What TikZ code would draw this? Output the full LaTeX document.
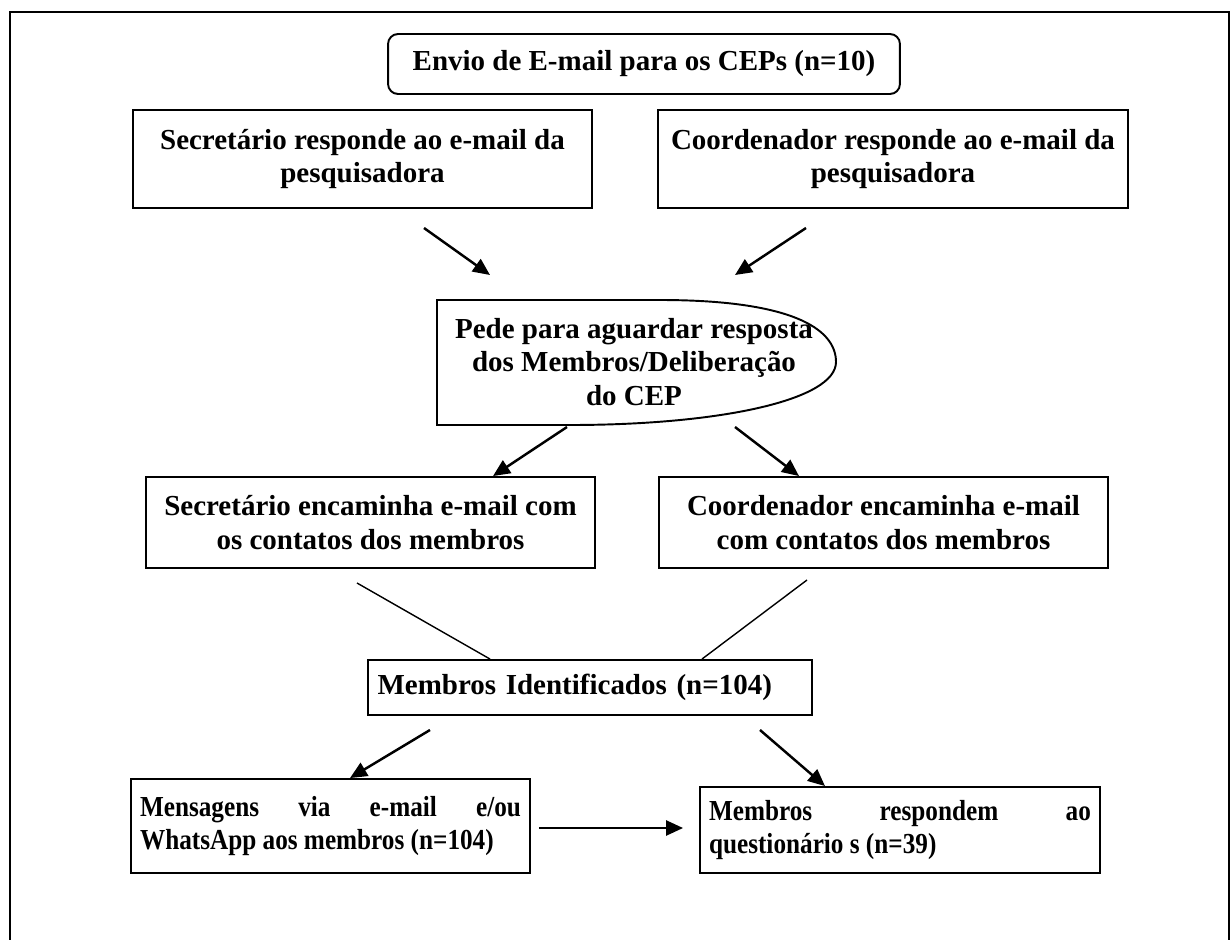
\documentclass[tikz,border=0pt]{standalone}
\usepackage{fontspec}
\setmainfont{Liberation Serif}
\newfontfamily\narrowfont[FakeStretch=0.87]{Liberation Serif}
\usetikzlibrary{arrows.meta,positioning,calc}

\begin{document}
\begin{tikzpicture}[x=0.02cm,y=-0.02cm,
   every node/.style={font=\bfseries\fontsize{16.5}{19}\selectfont},
   box/.style={draw,line width=1.1pt,rectangle,inner sep=0pt,align=center},
   jbox/.style={draw,line width=1.1pt,rectangle,inner xsep=0.18cm,inner ysep=0pt,align=justify,
                font=\narrowfont\bfseries\fontsize{16.5}{19}\selectfont},
   arr/.style={line width=1.4pt,-{Triangle[length=0.34cm,width=0.3cm]}},
   ln/.style={line width=0.8pt}
]
\useasboundingbox (0,0) rectangle (1232,940);
% outer frame, open at the bottom
\draw[line width=1.6pt] (10,940) -- (10,12) -- (1229,12) -- (1229,940);

\node[box,rounded corners=0.2cm,minimum width=10.24cm,minimum height=1.2cm] (TE) at (644,64)
   {Envio de E-mail para os CEPs (n=10)};
\node[box,minimum width=9.18cm,minimum height=1.96cm] (SR) at (362.5,159)
   {Secretário responde ao e-mail da\\pesquisadora};
\node[box,minimum width=9.4cm,minimum height=1.96cm] (CR) at (893,159)
   {Coordenador responde ao e-mail da\\pesquisadora};
\draw[ln] ($(TE.south west)+(13,0)$) -- ($(TE.south west)+(13,0)$ |- SR.north);
\draw[ln] ($(TE.south east)+(-13,0)$) -- ($(TE.south east)+(-13,0)$ |- CR.north);

% waiting for the committee
\node[align=center] (PD) at (634,362)
   {Pede para aguardar resposta\\dos Membros/Deliberação\\do CEP};
\draw[line width=1.1pt] (437,300) -- (660,300)
   .. controls (790,300) and (836,328) .. (836,362)
   .. controls (836,400) and (720,425) .. (570,425) -- (437,425) -- cycle;
\coordinate (a1s) at (424,228);
\coordinate (a1e) at (490,275);
\coordinate (a2s) at (806,228);
\coordinate (a2e) at (735,275);
\draw[arr] (a1s) -- (a1e);
\draw[arr] (a2s) -- (a2e);

\node[box,minimum width=8.98cm,minimum height=1.82cm] (SE) at (370.5,522.5)
   {Secretário encaminha e-mail com\\os contatos dos membros};
\node[box,minimum width=8.98cm,minimum height=1.82cm] (CE) at (883.5,522.5)
   {Coordenador encaminha e-mail\\com contatos dos membros};
\coordinate (b1s) at (567,427);
\coordinate (b2s) at (735,427);
\draw[arr] (b1s) -- (SE.north -| 493,0);
\draw[arr] (b2s) -- (CE.north -| 799,0);

% identified members
\node[box,minimum width=8.9cm,minimum height=1.1cm,text width=8.5cm,align=left,inner xsep=0.2cm] (MI) at (590,687.5)
   {Membros Identificados (n=104)};
\coordinate (c1s) at (357,583);
\coordinate (c2s) at (807,580);
\draw[ln] (c1s) -- (MI.north -| 490,0);
\draw[ln] (c2s) -- (MI.north -| 702,0);

% messages and answers
\node[jbox,minimum height=1.88cm,text width=7.62cm] (MV) at (330.5,826)
   {Mensagens via e-mail e/ou\linebreak WhatsApp aos membros (n=104)};
\node[jbox,minimum height=1.72cm,text width=7.64cm] (MR) at (900,830)
   {Membros respondem ao\linebreak questionário s (n=39)};
\coordinate (d1s) at (430,730);
\coordinate (d2s) at (760,730);
\draw[arr] (d1s) -- (MV.north -| 350,0);
\draw[arr] (d2s) -- (MR.north -| 825,0);
\draw[arr] ($(MV.east)+(8,2)$) -- ($(MR.west)+(-16,-2)$);

\end{tikzpicture}
\end{document}
